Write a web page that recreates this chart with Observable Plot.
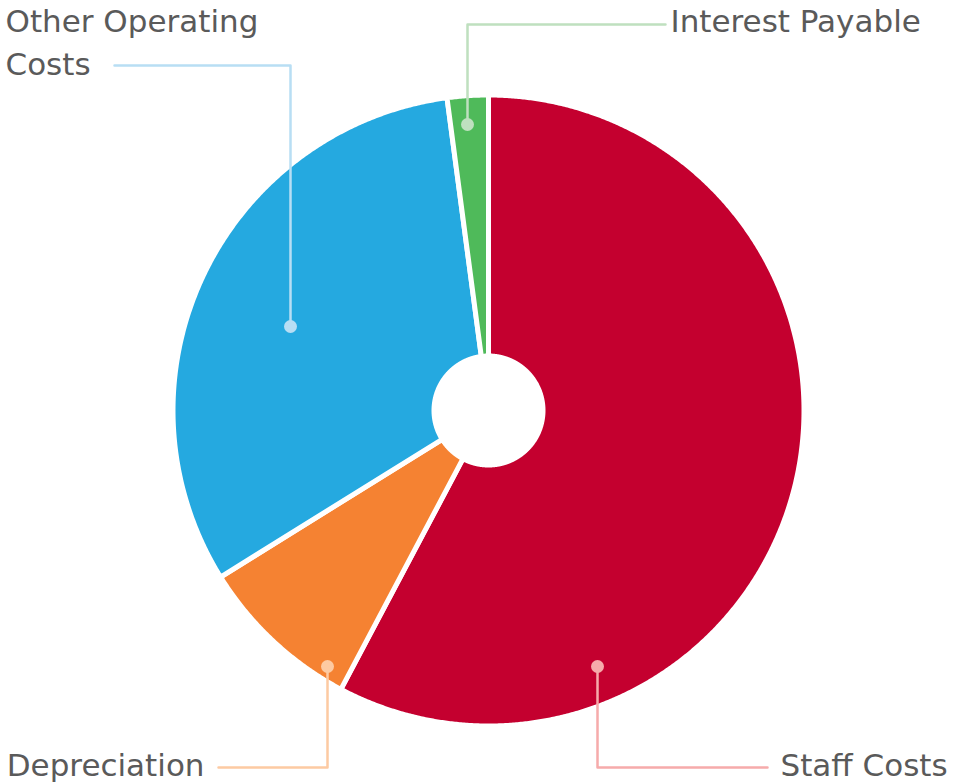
<!DOCTYPE html>
<html><head><meta charset="utf-8">
<script src="https://cdn.jsdelivr.net/npm/d3@7"></script>
<script src="https://cdn.jsdelivr.net/npm/@observablehq/plot@0.6"></script>
<style>body{margin:0;background:#fff}</style>
</head><body><div id="chart"></div>
<script>
// ---- data ----
const categories = ["Staff Costs", "Depreciation", "Other Operating Costs", "Interest Payable"];
const values = [57.75, 8.4, 31.75, 2.1];
const labelTexts = ["Staff Costs", "Depreciation", "Other Operating\nCosts", "Interest Payable"];
const sliceColors = ["#C4002F", "#F58232", "#25A9E0", "#4FBA5A"];
const leaderColors = ["#F6ABAB", "#FDCAA2", "#B8DEF4", "#BFE0BF"];

// ---- layout (pixel space) ----
const W = 978, H = 782;
const cx = 488, cy = 410, rOuter = 315.5, rInner = 54.5;
const leaderLayout = [
  {dot: [597, 666], corner: [597, 767], end: [767, 767], text: [780, 762], anchor: "start"},
  {dot: [327, 666], corner: [327, 767], end: [218, 767], text: [204, 762], anchor: "end"},
  {dot: [290, 326], corner: [290, 65], end: [114, 65], text: [5, 39], anchor: "start"},
  {dot: [467, 124], corner: [467, 24], end: [665, 24], text: [670, 18], anchor: "start"}
];

const rows = categories.map((c, i) => ({cat: c, value: values[i], label: labelTexts[i]}));
const arcs = d3.pie().sort(null).value(d => d.value)(rows);

const slicePts = [];
arcs.forEach(a => {
  const n = Math.max(4, Math.ceil((a.endAngle - a.startAngle) / 0.005));
  for (let k = 0; k <= n; k++) {
    const t = a.startAngle + (a.endAngle - a.startAngle) * k / n;
    slicePts.push({cat: a.data.cat, x: cx + rOuter * Math.sin(t), y: cy - rOuter * Math.cos(t)});
  }
  for (let k = n; k >= 0; k--) {
    const t = a.startAngle + (a.endAngle - a.startAngle) * k / n;
    slicePts.push({cat: a.data.cat, x: cx + rInner * Math.sin(t), y: cy - rInner * Math.cos(t)});
  }
});

const leaderMarks = [];
rows.forEach((r, i) => {
  const L = leaderLayout[i];
  const pts = [L.dot, L.corner, L.end].map(p => ({x: p[0], y: p[1]}));
  leaderMarks.push(Plot.line(pts, {x: "x", y: "y", stroke: leaderColors[i], strokeWidth: 2.5}));
  leaderMarks.push(Plot.dot([{x: L.dot[0], y: L.dot[1]}], {x: "x", y: "y", r: 6.5, fill: leaderColors[i], stroke: "none"}));
  leaderMarks.push(Plot.text([{x: L.text[0], y: L.text[1], label: r.label}], {
    x: "x", y: "y", text: "label", textAnchor: L.anchor, lineAnchor: "middle",
    lineHeight: 1.39, fontSize: 31, fill: "#5a5a5a", fontFamily: "DejaVu Sans"
  }));
});

const chart = Plot.plot({
  width: W, height: H,
  margin: 0,
  x: {type: "linear", domain: [0, W], range: [0, W], axis: null},
  y: {type: "linear", domain: [0, H], range: [0, H], axis: null},
  color: {domain: categories, range: sliceColors},
  style: {fontFamily: "DejaVu Sans", background: "#fff"},
  marks: [
    Plot.line(slicePts, {x: "x", y: "y", z: "cat", fill: "cat", stroke: "white", strokeWidth: 5, curve: "linear-closed"}),
    ...leaderMarks
  ]
});
document.getElementById("chart").append(chart);
</script>
</body></html>
